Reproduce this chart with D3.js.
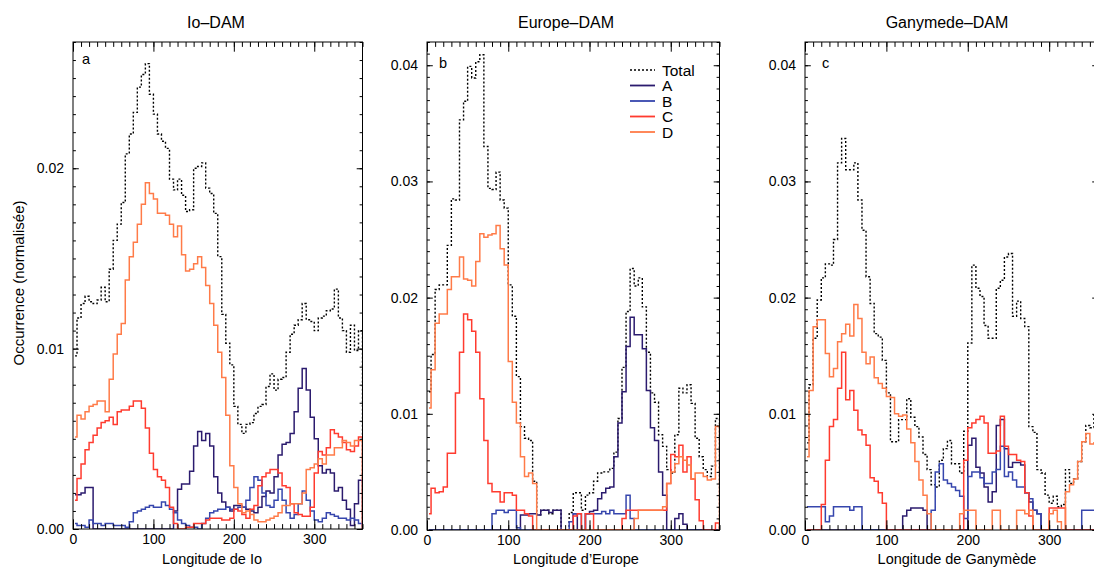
<!DOCTYPE html>
<html>
<head>
<meta charset="utf-8">
<script src="https://cdn.jsdelivr.net/npm/d3@7"></script>
<style>
  body { margin: 0; background: #ffffff; }
  svg text { font-family: "Liberation Sans", Arial, Helvetica, sans-serif; fill: #000; }
</style>
</head>
<body>
<svg id="chart" width="1094" height="569"></svg>
<script>
// ---- categories: centres of the 5-degree longitude bins ----
const longitudes = d3.range(2.5, 360, 5);
const seriesNames = ["Total", "A", "B", "C", "D"];
const seriesColors = ["#000000", "#2b1b6e", "#3646ad", "#ff3b2f", "#ff7b48"];
const xTickLabels = [0, 100, 200, 300];
const yTickLabelsIo = [0, 0.01, 0.02];
const yTickLabelsEuGa = [0, 0.01, 0.02, 0.03, 0.04];

// ---- (a) Io-DAM ----
const ioTotal = [.0096,.0117,.0125,.0129,.0126,.0125,.0127,.0134,.0126,.0144,
.0160,.0169,.0181,.0208,.0219,.0231,.0245,.0252,.0258,.0241,
.0230,.0219,.0215,.0211,.0194,.0188,.0194,.0185,.0176,.0177,
.0200,.0201,.0203,.0189,.0186,.0175,.0151,.0119,.0103,.0091,
.0068,.0058,.0053,.0058,.0059,.0064,.0068,.0069,.0079,.0086,
.0077,.0083,.0084,.0098,.0108,.0113,.0116,.0125,.0116,.0115,
.0110,.0117,.0118,.0121,.0122,.0133,.0117,.0110,.0098,.0113,
.0099,.0110];
const ioA = [.0019,.0019,.0020,.0023,.0023,0,0,0,0,0,
0,0,0,0,0,0,0,0,0,0,
0,0,0,0,0,.0010,.0022,.0025,.0025,.0032,
.0046,.0054,.0049,.0053,.0046,.0029,.0020,.0015,.0012,.0010,
.0013,.0013,.0012,.0011,.0010,.0009,.0012,.0018,.0021,.0020,
.0029,.0041,.0047,.0048,.0053,.0065,.0078,.0089,.0077,.0062,
.0050,.0035,.0031,.0033,.0031,.0021,.0023,.0016,.0011,.0002,
.0014,.0027];
const ioB = [.0003,.0002,.0002,.0001,.0005,.0003,.0003,.0002,.0003,.0003,
.0002,.0002,.0002,.0001,.0004,.0009,.0010,.0011,.0012,.0013,
.0012,.0012,.0015,.0013,.0011,.0009,.0005,.0003,.0002,.0001,
.0001,0,.0003,.0006,.0009,.0010,.0011,.0011,.0012,.0011,
.0011,.0012,.0012,.0016,.0023,.0029,.0027,.0020,.0013,.0012,
.0016,.0022,.0016,.0009,.0006,.0008,.0014,.0021,.0016,.0010,
.0005,.0004,.0006,.0009,.0008,.0007,.0006,.0006,.0005,.0006,
.0005,.0003];
const ioC = [.0016,.0028,.0036,.0044,.0048,.0052,.0056,.0059,.0060,.0062,
.0058,.0065,.0066,.0066,.0068,.0071,.0071,.0067,.0056,.0042,
.0033,.0029,.0027,.0023,.0012,.0003,0,0,.0001,.0001,
.0003,.0003,.0003,.0005,.0006,.0006,.0006,.0005,.0005,.0006,
.0011,.0010,.0008,.0006,.0011,.0013,.0024,.0029,.0031,.0033,
.0033,.0031,.0024,.0023,.0014,.0009,.0008,.0007,.0007,.0012,
.0031,.0043,.0041,.0045,.0055,.0053,.0051,.0048,.0044,.0043,
.0046,.0051];
const ioD = [.0051,.0063,.0061,.0065,.0068,.0069,.0071,.0071,.0065,.0083,
.0097,.0108,.0114,.0138,.0151,.0159,.0169,.0180,.0192,.0186,
.0183,.0175,.0175,.0174,.0169,.0162,.0168,.0152,.0143,.0144,
.0147,.0151,.0145,.0135,.0125,.0113,.0098,.0084,.0063,.0035,
.0023,.0014,.0009,.0010,.0008,.0005,.0004,.0004,.0005,.0006,
.0007,.0009,.0013,.0013,.0014,.0014,.0014,.0020,.0033,.0034,
.0036,.0039,.0036,.0041,.0041,.0045,.0045,.0049,.0048,.0046,
.0049,.0049];

// ---- (b) Europe-DAM ----
const euTotal = [.0119,.0151,.0207,.0211,.0211,.0245,.0285,.0284,.0353,.0369,
.0399,.0389,.0403,.0409,.0330,.0294,.0293,.0308,.0284,.0277,
.0211,.0184,.0132,.0089,.0079,.0077,.0042,.0013,.0017,.0017,
.0014,.0017,.0017,0,0,.0015,.0032,.0032,.0017,.0030,
.0032,.0042,.0049,.0050,.0050,.0053,.0067,.0096,.0140,.0188,
.0225,.0210,.0217,.0192,.0153,.0118,.0110,.0082,.0072,.0052,
.0049,.0082,.0122,.0118,.0125,.0109,.0079,.0063,.0052,.0046,
.0055,.0096];
const euA = [0,0,0,0,0,0,0,0,0,0,
0,0,0,0,0,0,0,0,0,0,
0,0,0,.0013,.0013,.0014,.0014,.0013,.0017,.0017,
.0015,.0017,.0017,0,0,0,.0014,0,0,.0014,
.0016,.0017,.0027,.0032,.0036,.0037,.0063,.0092,.0119,.0158,
.0183,.0168,.0168,.0156,.0120,.0088,.0077,.0050,.0030,0,
0,.0010,.0014,.0005,0,0,0,0,0,0,
0,0];
const euB = [0,0,0,0,0,0,0,0,0,0,
0,0,0,0,0,0,.0014,.0017,.0017,.0015,
.0017,.0017,.0002,0,0,0,0,0,0,0,
0,0,0,0,0,.0007,.0014,.0014,0,.0014,
.0014,.0014,.0014,.0016,.0014,.0017,.0014,.0014,.0014,.0030,
.0010,0,0,0,0,0,0,0,0,0,
0,0,0,0,0,0,0,0,0,0,
0,0];
const euC = [.0014,.0036,.0032,.0033,.0037,.0066,.0066,.0118,.0153,.0186,
.0181,.0171,.0153,.0113,.0077,.0040,.0033,.0033,.0024,.0032,
.0032,.0030,.0017,.0017,.0014,.0012,0,0,0,0,
0,0,0,0,0,0,.0012,.0014,0,.0014,
.0014,0,0,0,0,0,0,0,.0010,.0017,
.0017,.0017,.0017,.0017,.0017,.0017,.0017,.0017,.0017,.0040,
.0065,.0063,.0073,.0050,.0063,.0044,.0026,.0008,0,0,
0,.0006];
const euD = [.0105,.0138,.0178,.0186,.0186,.0207,.0218,.0218,.0235,.0216,
.0215,.0210,.0231,.0255,.0252,.0254,.0255,.0262,.0242,.0228,
.0145,.0110,.0092,.0063,.0046,.0049,.0040,0,0,0,
0,0,0,0,0,0,0,0,0,0,
0,0,0,0,0,0,0,0,0,0,
0,.0010,.0017,.0017,.0017,.0017,.0017,.0017,.0020,.0040,
.0050,.0057,.0063,.0060,.0056,.0044,.0049,.0049,.0046,.0043,
.0044,.0089];

// ---- (c) Ganymede-DAM ----
const gaTotal = [.0075,.0125,.0165,.0198,.0217,.0229,.0228,.0250,.0316,.0337,
.0310,.0310,.0316,.0284,.0258,.0218,.0195,.0169,.0166,.0146,
.0118,.0076,.0076,.0095,.0095,.0113,.0097,.0089,.0080,.0065,
.0052,.0039,.0037,.0060,.0070,.0077,.0057,.0057,.0049,.0085,
.0161,.0228,.0208,.0201,.0176,.0165,.0165,.0208,.0215,.0235,
.0238,.0184,.0197,.0182,.0175,.0089,.0084,.0052,.0049,.0030,
.0023,.0029,.0020,.0022,.0052,.0040,.0044,.0059,.0076,.0090,
.0088,.0100];
const gaA = [0,0,0,0,0,0,0,0,0,0,
0,0,0,0,0,0,0,0,0,0,
0,0,0,0,.0012,.0017,.0019,.0019,.0019,.0017,
0,0,0,0,0,0,0,0,0,0,
.0073,.0079,.0054,.0049,.0037,.0024,.0033,.0090,.0095,.0070,
.0054,.0058,.0058,.0056,.0032,.0024,.0017,.0014,0,0,
0,0,0,0,0,0,0,0,0,0,
0,0];
const gaB = [.0020,.0020,.0020,.0020,.0020,.0007,.0012,.0020,.0020,.0020,
.0020,.0017,.0020,.0020,0,0,0,0,0,0,
0,0,0,0,0,0,0,0,0,0,
0,.0017,.0050,.0057,.0043,.0040,.0037,.0034,.0029,.0010,
.0046,.0050,.0050,.0045,.0040,.0040,.0050,.0052,.0072,.0046,
.0050,.0043,.0037,.0037,.0032,.0027,.0017,.0014,0,0,
0,0,0,0,0,0,0,0,.0017,.0017,
.0017,.0017];
const gaC = [0,0,0,0,.0022,.0060,.0089,.0095,.0122,.0153,
.0112,.0120,.0103,.0086,.0082,.0073,.0045,.0042,.0032,.0023,
0,0,0,0,0,0,0,0,0,0,
0,0,0,0,0,0,0,0,0,.0060,
.0088,.0092,.0095,.0098,.0092,.0066,.0066,.0068,.0098,.0072,
.0065,.0065,.0060,.0059,.0032,.0012,0,0,0,0,
.0019,.0019,.0019,.0019,0,0,0,0,0,0,
0,0];
const gaD = [.0063,.0120,.0175,.0181,.0181,.0152,.0132,.0139,.0162,.0169,
.0177,.0167,.0194,.0182,.0153,.0143,.0149,.0131,.0126,.0122,
.0115,.0114,.0100,.0098,.0099,.0087,.0075,.0059,.0043,.0030,
.0014,0,0,0,0,0,0,0,.0014,.0017,
.0017,.0017,0,0,0,0,.0017,.0017,0,0,
0,0,.0017,.0017,.0014,.0017,0,0,0,0,
.0014,.0017,.0007,0,.0033,.0039,.0044,.0059,.0076,.0083,
.0074,.0075];

// ---- layout ----
const panels = [
  { id: "a", title: "Io\u2013DAM", xTitle: "Longitude de Io", left: 73, right: 362.5, top: 42, bottom: 529,
    yMax: 0.027, yLabels: yTickLabelsIo, titleX: 216, xTitleX: 212, letterX: 82, letterY: 64,
    series: [ioTotal, ioA, ioB, ioC, ioD] },
  { id: "b", title: "Europe\u2013DAM", xTitle: "Longitude d\u2019Europe", left: 427, right: 719.5, top: 42, bottom: 530,
    yMax: 0.042, yLabels: yTickLabelsEuGa, titleX: 566, xTitleX: 576, letterX: 439, letterY: 68,
    series: [euTotal, euA, euB, euC, euD] },
  { id: "c", title: "Ganymede\u2013DAM", xTitle: "Longitude de Ganym\u00e8de", left: 805, right: 1098, top: 42, bottom: 530,
    yMax: 0.042, yLabels: yTickLabelsEuGa, titleX: 947, xTitleX: 957, letterX: 822, letterY: 68,
    series: [gaTotal, gaA, gaB, gaC, gaD] }
];

const svg = d3.select("#chart");
const defs = svg.append("defs");

panels.forEach(p => {
  const x = d3.scaleLinear().domain([0, 360]).range([p.left, p.right]);
  const y = d3.scaleLinear().domain([0, p.yMax]).range([p.bottom, p.top]);
  const g = svg.append("g");

  defs.append("clipPath").attr("id", "clip-" + p.id)
    .append("rect").attr("x", p.left).attr("y", p.top)
    .attr("width", p.right - p.left).attr("height", p.bottom - p.top);

  // histogram step lines
  const line = d3.line().x(d => x(d[0])).y(d => y(d[1])).curve(d3.curveStep);
  const lines = g.append("g").attr("clip-path", `url(#clip-${p.id})`);
  p.series.forEach((vals, si) => {
    const pts = longitudes.map((lon, i) => [lon, vals[i]]).concat([[362.5, 0]]);
    lines.append("path").datum(pts)
      .attr("fill", "none")
      .attr("stroke", seriesColors[si])
      .attr("stroke-width", si === 0 ? 1.4 : 1.5)
      .attr("stroke-dasharray", si === 0 ? "2,2" : null)
      .attr("d", line);
  });

  // axes (ticks inward on all four sides)
  const minorX = d3.range(0, 361, 10);
  const minorY = d3.range(0, p.yMax + 1e-9, 0.001);
  const styleAxis = sel => {
    sel.select(".domain").remove();
    sel.attr("font-family", null).attr("font-size", null);
    sel.selectAll("line").attr("stroke", "#000").attr("stroke-width", 1);
    sel.selectAll("text").attr("font-size", 14);
  };
  g.append("g").attr("transform", `translate(0,${p.bottom})`)
    .call(d3.axisBottom(x).tickValues(minorX).tickSize(-4.9).tickFormat("")).call(styleAxis);
  g.append("g").attr("transform", `translate(0,${p.bottom})`)
    .call(d3.axisBottom(x).tickValues(xTickLabels).tickSize(-9.7).tickPadding(5).tickFormat(d3.format("d"))).call(styleAxis);
  g.append("g").attr("transform", `translate(0,${p.top})`)
    .call(d3.axisTop(x).tickValues(minorX).tickSize(-4.9).tickFormat("")).call(styleAxis);
  g.append("g").attr("transform", `translate(0,${p.top})`)
    .call(d3.axisTop(x).tickValues(xTickLabels).tickSize(-9.7).tickFormat("")).call(styleAxis);
  g.append("g").attr("transform", `translate(${p.left},0)`)
    .call(d3.axisLeft(y).tickValues(minorY).tickSize(-2.9).tickFormat("")).call(styleAxis);
  g.append("g").attr("transform", `translate(${p.left},0)`)
    .call(d3.axisLeft(y).tickValues(p.yLabels).tickSize(-5.8).tickPadding(9).tickFormat(d3.format(".2f"))).call(styleAxis);
  g.append("g").attr("transform", `translate(${p.right},0)`)
    .call(d3.axisRight(y).tickValues(minorY).tickSize(-2.9).tickFormat("")).call(styleAxis);
  g.append("g").attr("transform", `translate(${p.right},0)`)
    .call(d3.axisRight(y).tickValues(p.yLabels).tickSize(-5.8).tickFormat("")).call(styleAxis);

  g.append("rect").attr("x", p.left).attr("y", p.top)
    .attr("width", p.right - p.left).attr("height", p.bottom - p.top)
    .attr("fill", "none").attr("stroke", "#000").attr("stroke-width", 1);

  // texts
  g.append("text").attr("x", p.titleX).attr("y", 28).attr("text-anchor", "middle")
    .attr("font-size", 16).text(p.title);
  g.append("text").attr("x", p.xTitleX).attr("y", 564).attr("text-anchor", "middle")
    .attr("font-size", 14.5).text(p.xTitle);
  g.append("text").attr("x", p.letterX).attr("y", p.letterY)
    .attr("font-size", 14.5).text(p.id);
});

// y-axis title
svg.append("text").attr("transform", "translate(23.5,283) rotate(-90)")
  .attr("text-anchor", "middle").attr("font-size", 15).text("Occurrence (normalis\u00e9e)");

// legend in panel b
const legend = svg.append("g");
seriesNames.forEach((name, i) => {
  const ly = 70 + i * 15.5;
  legend.append("line").attr("x1", 630).attr("x2", 655).attr("y1", ly).attr("y2", ly)
    .attr("stroke", seriesColors[i]).attr("stroke-width", i === 0 ? 1.6 : 1.8)
    .attr("stroke-dasharray", i === 0 ? "2,2" : null);
  legend.append("text").attr("x", 662).attr("y", ly + 5.5).attr("font-size", 15.5).text(name);
});
</script>
</body>
</html>
